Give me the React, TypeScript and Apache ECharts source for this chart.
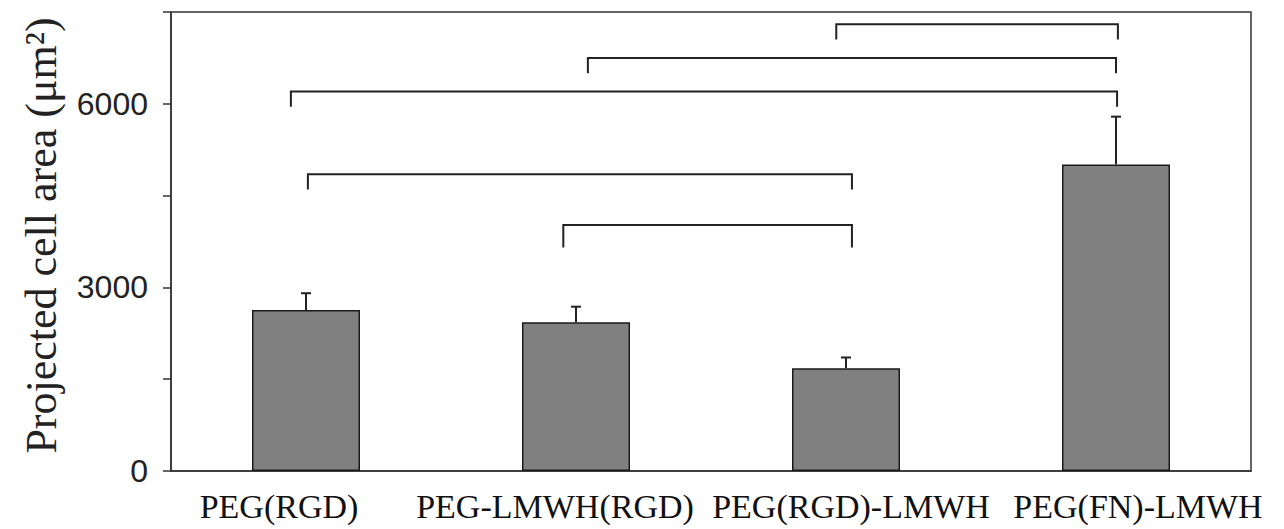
import React, { useEffect, useRef } from "react";
import * as echarts from "echarts";

const categories = ["PEG(RGD)", "PEG-LMWH(RGD)", "PEG(RGD)-LMWH", "PEG(FN)-LMWH"];
const areaMeans = [2630, 2430, 1680, 5010];
const areaErrors = [275, 255, 175, 780];
const yTickLabels = [0, 3000, 6000];

// significance brackets: ends in category units, level and end of the drops in µm²
const bracketLeft = [1.964, 1.044, -0.056, 0.007, 0.953];
const bracketRight = [3.007, 3.0, 3.004, 2.022, 2.022];
const bracketLevel = [7300, 6750, 6200, 4850, 4020];
const bracketEnd = [7050, 6500, 5950, 4600, 3650];

const labelShift = [-27, -21, 5, 22];

export default function App() {
  const ref = useRef<HTMLDivElement>(null);

  useEffect(() => {
    if (!ref.current) return;
    const chart = echarts.init(ref.current, undefined, { renderer: "svg" });
    const serif = "'Liberation Serif', 'Times New Roman', serif";
    const rich: Record<string, any> = {};
    labelShift.forEach((s, i) => {
      rich["l" + i] = {
        fontFamily: serif,
        fontSize: 34,
        color: "#111",
        padding: s < 0 ? [0, -2 * s, 0, 0] : [0, 0, 0, 2 * s],
      };
    });

    chart.setOption({
      animation: false,
      backgroundColor: "#ffffff",
      grid: {
        left: 171,
        right: 33,
        top: 12,
        bottom: 58,
        show: true,
        borderColor: "#333",
        borderWidth: 1.5,
        backgroundColor: "transparent",
      },
      xAxis: {
        type: "category",
        data: categories,
        axisLine: { lineStyle: { color: "#333", width: 1.5 } },
        axisTick: { show: false },
        axisLabel: {
          interval: 0,
          margin: 18,
          formatter: (val: string, idx: number) => `{l${idx}|${val}}`,
          rich,
        },
        splitLine: { show: false },
      },
      yAxis: {
        type: "value",
        min: 0,
        max: 7500,
        interval: 1500,
        name: "Projected cell area (μm²)",
        nameLocation: "middle",
        nameRotate: 90,
        nameGap: 108,
        nameTextStyle: {
          fontFamily: serif,
          fontSize: 44,
          color: "#222",
          padding: [0, 0, 0, 12],
        },
        axisLine: { show: true, lineStyle: { color: "#333", width: 1.5 } },
        axisTick: { show: true, length: 8, lineStyle: { color: "#333", width: 1.5 } },
        axisLabel: {
          margin: 23,
          fontFamily: "'Liberation Sans', Arial, sans-serif",
          fontSize: 32,
          color: "#222",
          formatter: (v: number) => (yTickLabels.indexOf(v) >= 0 ? String(v) : ""),
        },
        splitLine: { show: false },
      },
      series: [
        {
          type: "bar",
          data: areaMeans,
          barWidth: "40%",
          itemStyle: { color: "#808080", borderColor: "#1a1a1a", borderWidth: 1.5 },
          z: 2,
        },
        {
          type: "custom",
          z: 3,
          clip: false,
          data: areaMeans.map((v, i) => [i, v, areaErrors[i]]),
          renderItem: (params: any, api: any) => {
            const i = api.value(0);
            const v = api.value(1);
            const e = api.value(2);
            const base = api.coord([i, v]);
            const top = api.coord([i, v + e]);
            return {
              type: "group",
              children: [
                {
                  type: "line",
                  shape: { x1: base[0], y1: base[1], x2: top[0], y2: top[1] },
                  style: { stroke: "#222", lineWidth: 2 },
                },
                {
                  type: "line",
                  shape: { x1: top[0] - 5, y1: top[1], x2: top[0] + 5, y2: top[1] },
                  style: { stroke: "#222", lineWidth: 2 },
                },
              ],
            };
          },
        },
        {
          type: "custom",
          z: 3,
          clip: false,
          data: bracketLevel.map((lvl, i) => [0, lvl, bracketEnd[i], bracketLeft[i], bracketRight[i]]),
          renderItem: (params: any, api: any) => {
            const origin = api.coord([0, api.value(1)]);
            const bw = api.size([1, 0])[0];
            const yEnd = api.coord([0, api.value(2)])[1];
            const xl = origin[0] + api.value(3) * bw;
            const xr = origin[0] + api.value(4) * bw;
            return {
              type: "polyline",
              shape: {
                points: [
                  [xl, yEnd],
                  [xl, origin[1]],
                  [xr, origin[1]],
                  [xr, yEnd],
                ],
              },
              style: { stroke: "#222", lineWidth: 2, fill: "none" },
            };
          },
        },
      ],
    });

    return () => chart.dispose();
  }, []);

  return (
    <div
      ref={ref}
      style={{ position: "fixed", left: 0, top: 0, width: 1284, height: 529, background: "#fff" }}
    />
  );
}
